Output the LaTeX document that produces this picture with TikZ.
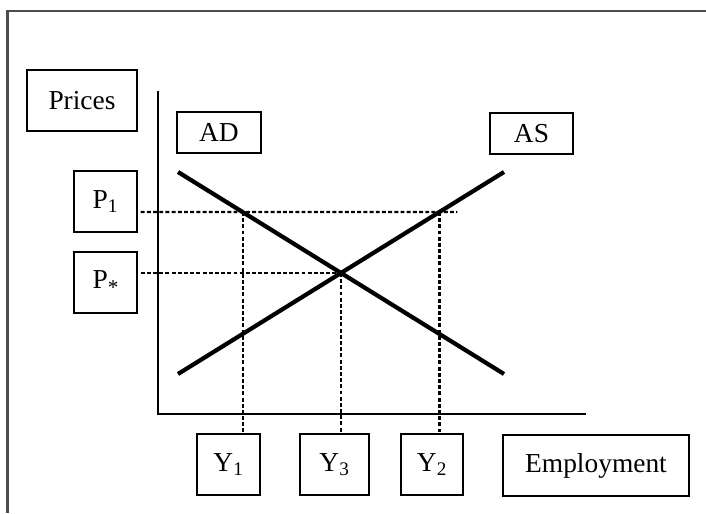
\documentclass[tikz,border=0pt]{standalone}
\usepackage{fontspec}
\setmainfont{Liberation Serif}
\usepackage{tikz}
\usetikzlibrary{calc}
\usetikzlibrary{intersections}
\tikzstyle{labelbox}=[black, draw=black, line width=1.3pt, shape=rectangle, fill=white, minimum height=15.25mm, inner sep=2pt, font=\fontsize{19.5}{23}\selectfont]
\tikzstyle{curvebox}=[labelbox, minimum height=10.25mm]
\tikzstyle{schedule}=[line width=3pt, color=black]
\tikzstyle{guide}=[line width=1.5pt, dash pattern=on 2.8pt off 1.6pt, color=black]

\begin{document}
\begin{tikzpicture}
\useasboundingbox[fill=white] (-3.95,-2.475) rectangle (13.7,10.35);
\draw[line width=2pt, color=black!70] (-3.7625,-2.475) -- (-3.7625,10.075) -- (13.7,10.075);

% axes and the two schedules
\draw[line width=1.2pt] (0,8.075) -- (0,0) -- (10.7,0);
\draw[schedule, name path=ad] (0.5,6.05) -- (8.65,1.0);
\draw[schedule, name path=as] (0.5,1.0) -- (8.65,6.05);
\path[name path=ponelevel] (0,5.05) -- (10,5.05);

\path[name intersections={of=ad and as, by=eq}];
\path[name intersections={of=ad and ponelevel, by=yonept}];
\path[name intersections={of=as and ponelevel, by=ytwopt}];

\node [labelbox, minimum width=27.5mm] (prices) at (-1.9,7.8375) {Prices};
\node [curvebox, minimum width=21mm] (adlabel) at (1.525,7.0375) {AD};
\node [curvebox, minimum width=20.75mm] (aslabel) at (9.3375,7.0125) {AS};
\node [labelbox, minimum width=15.75mm] (pone) at (-1.3125,5.3125) {P\textsubscript{1}};
\node [labelbox, minimum width=15.75mm] (pstar) at (-1.3125,3.2875) {P\raisebox{-0.22em}{\fontsize{15}{15}\selectfont *}};
\node [labelbox, minimum width=15.75mm] (yone) at (1.7625,-1.2625) {Y\textsubscript{1}};
\node [labelbox, minimum width=17.25mm] (ythree) at (4.4125,-1.2625) {Y\textsubscript{3}};
\node [labelbox, minimum width=15.5mm] (ytwo) at (6.85,-1.2625) {Y\textsubscript{2}};
\node [labelbox, minimum width=46.5mm] (employment) at (10.95,-1.2875) {Employment};

% guide lines
\draw[guide, shorten <=2pt] (pone.east |- yonept) -- ($(ytwopt)+(0.45,0)$);
\draw[guide, shorten <=2pt] (pstar.east |- eq) -- (eq);
\draw[guide] (yonept) -- (yonept |- yone.north);
\draw[guide] (eq) -- (eq |- ythree.north);
\draw[guide] (ytwopt) -- (ytwopt |- ytwo.north);
\end{tikzpicture}
\end{document}
